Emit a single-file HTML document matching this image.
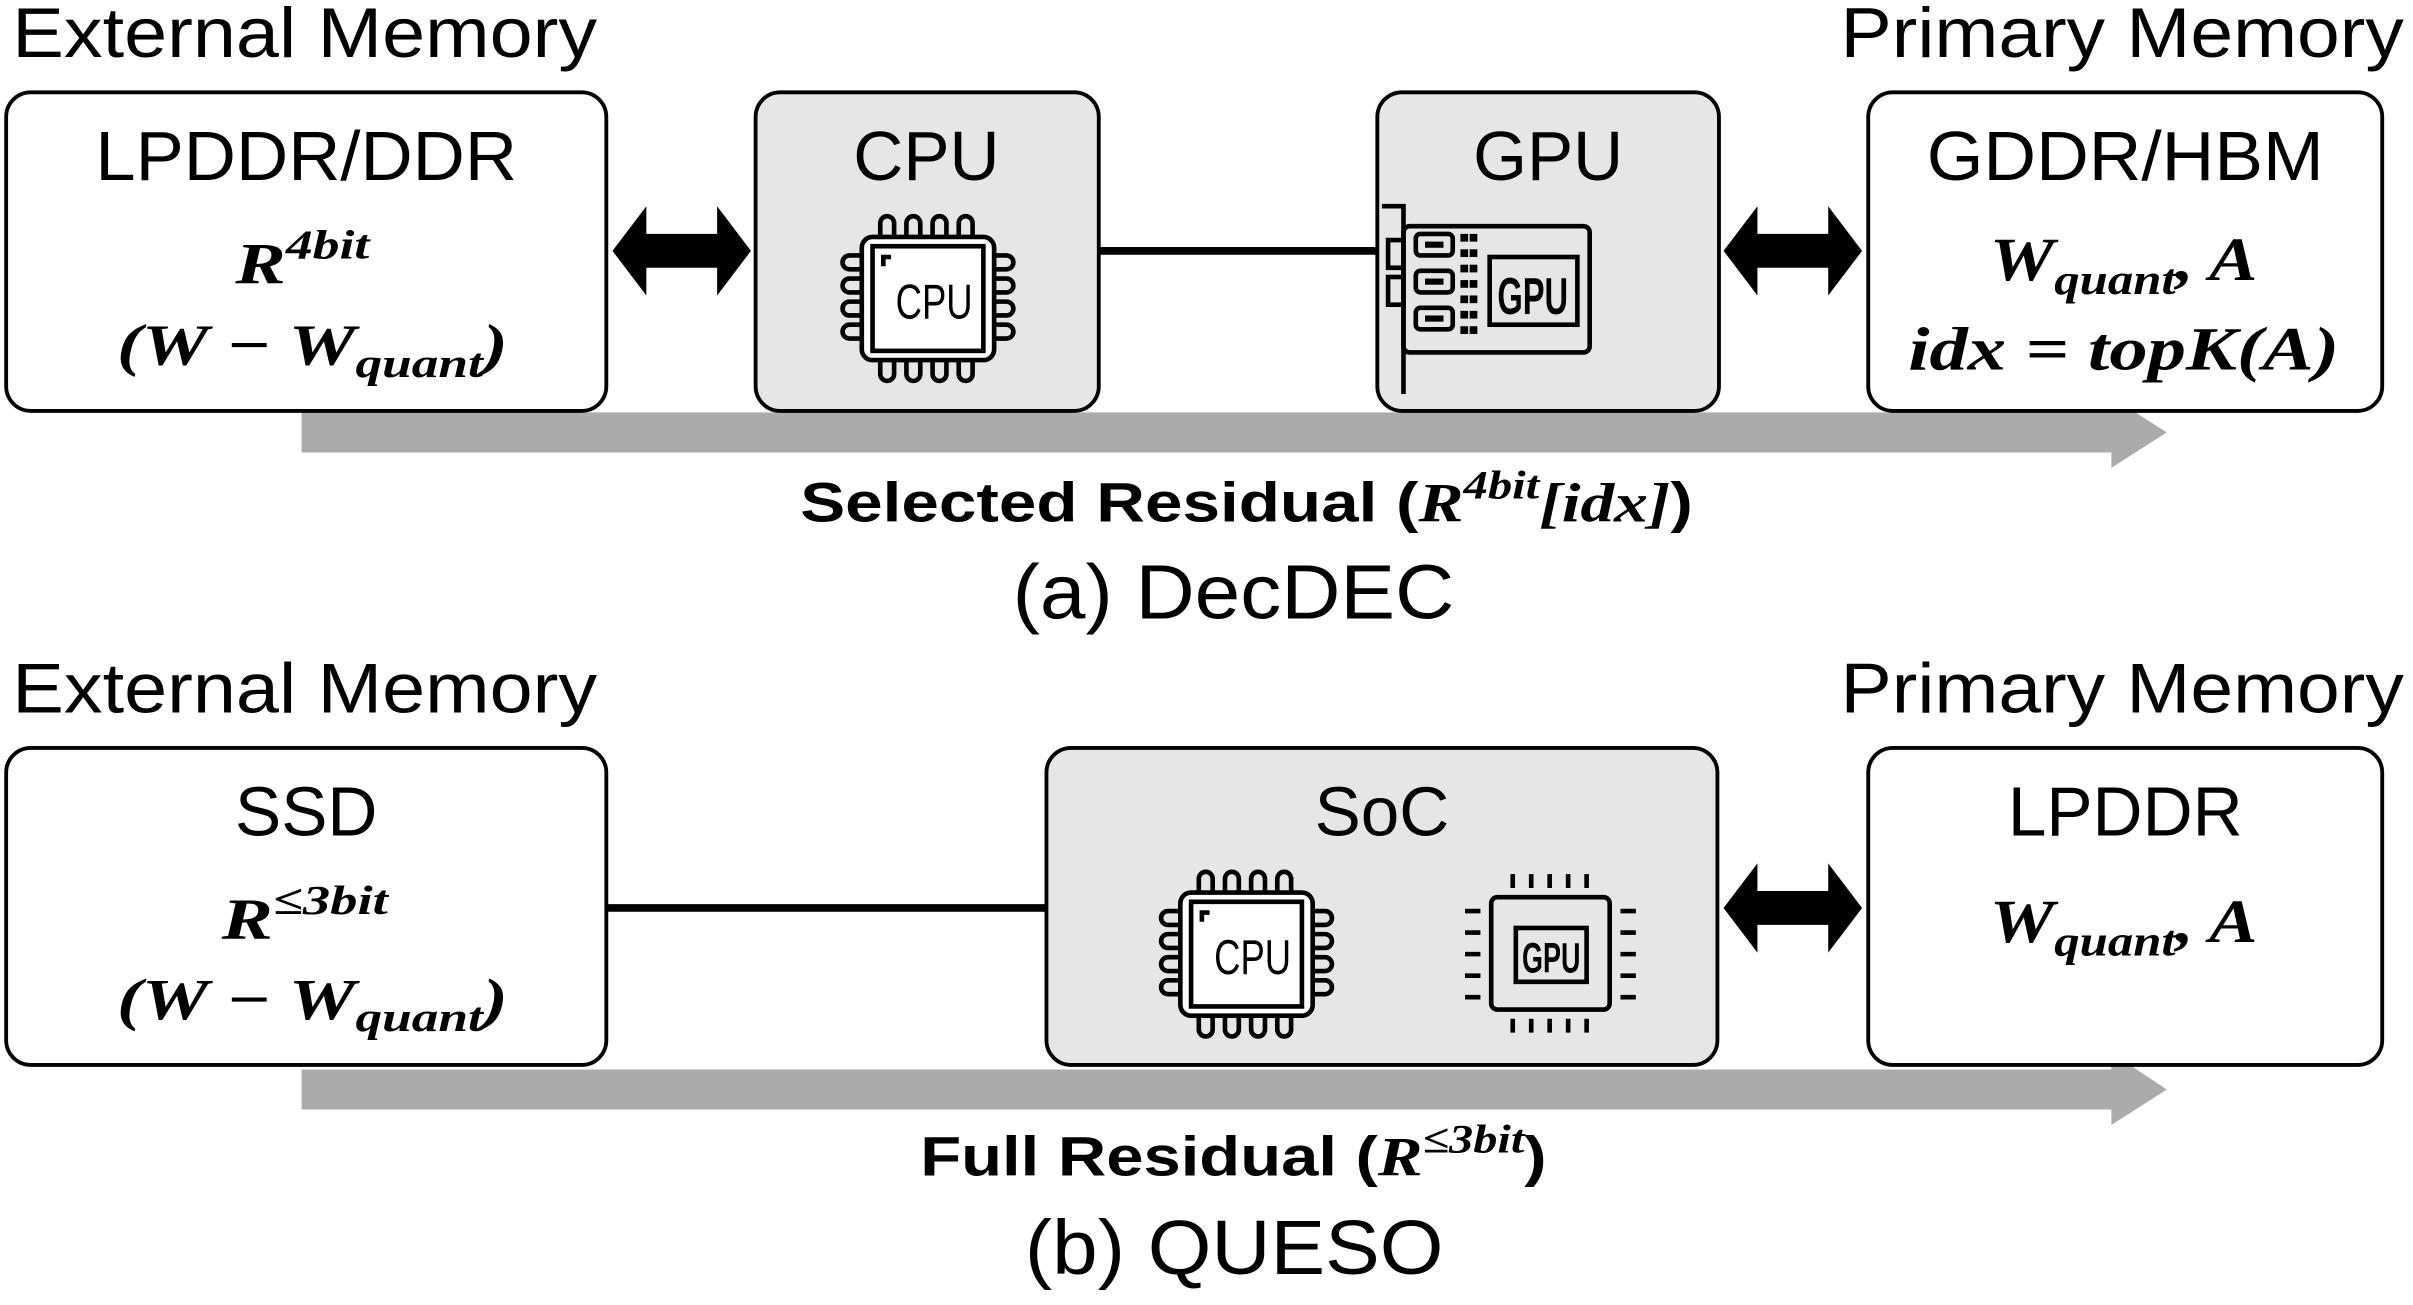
<!DOCTYPE html>
<html><head><meta charset="utf-8"><style>
html,body{margin:0;padding:0;background:#fff;}
svg{display:block;}
.s{font-family:"Liberation Sans",sans-serif;}
.m{font-family:"Liberation Serif",serif;font-weight:bold;font-style:italic;}
</style></head><body>
<svg width="2413" height="1305" viewBox="0 0 1568 848" preserveAspectRatio="none" xmlns="http://www.w3.org/2000/svg">
<defs>
<g id="cpu">
  <g fill="none" stroke="#000" stroke-width="3">
    <rect x="-43" y="-40" width="86" height="80" rx="7" fill="#fff"/>
    <rect x="-36" y="-34" width="72" height="68"/>
    <path d="M-31 -40v-9a4 4 0 0 1 9 0v9 M-14 -40v-9a4 4 0 0 1 9 0v9 M3 -40v-9a4 4 0 0 1 9 0v9 M20 -40v-9a4 4 0 0 1 9 0v9"/>
    <path d="M-31 40v9a4 4 0 0 0 9 0v-9 M-14 40v9a4 4 0 0 0 9 0v-9 M3 40v9a4 4 0 0 0 9 0v-9 M20 40v9a4 4 0 0 0 9 0v-9"/>
    <path d="M-43 -28h-8a4 4 0 0 0 0 9h8 M-43 -13h-8a4 4 0 0 0 0 9h8 M-43 2h-8a4 4 0 0 0 0 9h8 M-43 17h-8a4 4 0 0 0 0 9h8"/>
    <path d="M43 -28h8a4 4 0 0 1 0 9h-8 M43 -13h8a4 4 0 0 1 0 9h-8 M43 2h8a4 4 0 0 1 0 9h-8 M43 17h8a4 4 0 0 1 0 9h-8"/>
    <path d="M-29 -21v-6h5"/>
  </g>
</g>
</defs>

<text class="s" x="8" y="37" font-size="46" textLength="380" lengthAdjust="spacingAndGlyphs">External Memory</text>
<text class="s" x="1562" y="37" font-size="46" text-anchor="end" textLength="366" lengthAdjust="spacingAndGlyphs">Primary Memory</text>

<polygon points="196,268 1372,268 1372,258 1408,281 1372,304 1372,294 196,294" fill="#ababab"/>

<rect x="4" y="60" width="390" height="207" rx="16" fill="#fff" stroke="#000" stroke-width="2.5"/>
<rect x="491" y="60" width="223" height="207" rx="16" fill="#e6e6e6" stroke="#000" stroke-width="2.5"/>
<rect x="895" y="60" width="222" height="207" rx="16" fill="#e6e6e6" stroke="#000" stroke-width="2.5"/>
<rect x="1214" y="60" width="334" height="207" rx="16" fill="#fff" stroke="#000" stroke-width="2.5"/>

<line x1="714" y1="163" x2="895" y2="163" stroke="#000" stroke-width="5"/>
<polygon points="398,163 420,134 420,152 466,152 466,134 488,163 466,192 466,174 420,174 420,192" fill="#000"/>
<polygon points="1120,163 1142,134 1142,152 1188,152 1188,134 1210,163 1188,192 1188,174 1142,174 1142,192" fill="#000"/>

<text class="s" x="62" y="117" font-size="45" textLength="274" lengthAdjust="spacingAndGlyphs">LPDDR/DDR</text>
<text class="m" x="153" y="184" font-size="38" textLength="87" lengthAdjust="spacingAndGlyphs">R<tspan font-size="27" dy="-16">4bit</tspan></text>
<text class="m" x="76" y="237" font-size="38" textLength="254" lengthAdjust="spacingAndGlyphs">(W − W<tspan font-size="27" dy="8">quant</tspan><tspan dy="-8">)</tspan></text>

<text class="s" x="602" y="117" font-size="45" text-anchor="middle">CPU</text>
<use href="#cpu" transform="translate(603,194)"/>
<text class="s" x="607" y="207" font-size="32" text-anchor="middle" textLength="50" lengthAdjust="spacingAndGlyphs">CPU</text>

<text class="s" x="1006" y="117" font-size="45" text-anchor="middle">GPU</text>
<g fill="none" stroke="#000" stroke-width="3">
  <path d="M898 134h14v122"/>
  <rect x="912" y="147" width="121" height="82" rx="4"/>
  <rect x="902" y="156" width="10" height="18"/>
  <rect x="902" y="180" width="10" height="18"/>
  <rect x="920" y="152" width="24" height="14" rx="3"/>
  <rect x="920" y="176" width="24" height="14" rx="3"/>
  <rect x="920" y="200" width="24" height="14" rx="3"/>
  <rect x="968" y="167" width="57" height="44"/>
</g>
<g fill="#000">
  <rect x="926" y="157" width="12" height="4"/><rect x="926" y="181" width="12" height="4"/><rect x="926" y="205" width="12" height="4"/>
  <rect x="949" y="152" width="5" height="5"/><rect x="955" y="152" width="5" height="5"/>
  <rect x="949" y="162" width="5" height="5"/><rect x="955" y="162" width="5" height="5"/>
  <rect x="949" y="172" width="5" height="5"/><rect x="955" y="172" width="5" height="5"/>
  <rect x="949" y="182" width="5" height="5"/><rect x="955" y="182" width="5" height="5"/>
  <rect x="949" y="192" width="5" height="5"/><rect x="955" y="192" width="5" height="5"/>
  <rect x="949" y="202" width="5" height="5"/><rect x="955" y="202" width="5" height="5"/>
  <rect x="949" y="212" width="5" height="5"/><rect x="955" y="212" width="5" height="5"/>
</g>
<text class="s" x="996" y="204" font-size="34" font-weight="bold" text-anchor="middle" textLength="46" lengthAdjust="spacingAndGlyphs">GPU</text>

<text class="s" x="1252" y="117" font-size="45" textLength="258" lengthAdjust="spacingAndGlyphs">GDDR/HBM</text>
<text class="m" x="1293" y="182" font-size="40" textLength="174" lengthAdjust="spacingAndGlyphs">W<tspan font-size="28" dy="9">quant</tspan><tspan dy="-9">, A</tspan></text>
<text class="m" x="1240" y="240" font-size="40" textLength="280" lengthAdjust="spacingAndGlyphs">idx = topK(A)</text>

<text class="s" x="520" y="339" font-size="36" font-weight="bold" textLength="580" lengthAdjust="spacingAndGlyphs">Selected Residual (<tspan class="m" font-family="Liberation Serif">R<tspan font-size="26" dy="-15">4bit</tspan><tspan dy="15">[idx]</tspan></tspan>)</text>
<text class="s" x="658" y="402" font-size="50" textLength="287" lengthAdjust="spacingAndGlyphs">(a) DecDEC</text>

<text class="s" x="8" y="463" font-size="46" textLength="380" lengthAdjust="spacingAndGlyphs">External Memory</text>
<text class="s" x="1562" y="463" font-size="46" text-anchor="end" textLength="366" lengthAdjust="spacingAndGlyphs">Primary Memory</text>

<polygon points="196,695 1372,695 1372,684 1408,708 1372,731 1372,721 196,721" fill="#ababab"/>

<rect x="4" y="486" width="390" height="206" rx="16" fill="#fff" stroke="#000" stroke-width="2.5"/>
<rect x="680" y="486" width="436" height="206" rx="16" fill="#e6e6e6" stroke="#000" stroke-width="2.5"/>
<rect x="1214" y="486" width="334" height="206" rx="16" fill="#fff" stroke="#000" stroke-width="2.5"/>

<line x1="394" y1="590" x2="680" y2="590" stroke="#000" stroke-width="5"/>
<polygon points="1120,590 1142,561 1142,579 1188,579 1188,561 1210,590 1188,619 1188,601 1142,601 1142,619" fill="#000"/>

<text class="s" x="199" y="543" font-size="45" text-anchor="middle">SSD</text>
<text class="m" x="144" y="610" font-size="38" textLength="108" lengthAdjust="spacingAndGlyphs">R<tspan font-size="27" dy="-16">≤3bit</tspan></text>
<text class="m" x="76" y="662" font-size="38" textLength="254" lengthAdjust="spacingAndGlyphs">(W − W<tspan font-size="27" dy="8">quant</tspan><tspan dy="-8">)</tspan></text>

<text class="s" x="898" y="543" font-size="45" text-anchor="middle">SoC</text>
<use href="#cpu" transform="translate(810,620)"/>
<text class="s" x="814" y="633" font-size="32" text-anchor="middle" textLength="50" lengthAdjust="spacingAndGlyphs">CPU</text>

<g fill="none" stroke="#000" stroke-width="3">
  <rect x="969" y="583" width="77" height="73" rx="4"/>
  <rect x="985" y="603" width="46" height="35"/>
</g>
<g stroke="#000" stroke-width="3">
  <path d="M983 568v9 M995 568v9 M1007 568v9 M1019 568v9 M1031 568v9"/>
  <path d="M983 662v9 M995 662v9 M1007 662v9 M1019 662v9 M1031 662v9"/>
  <path d="M952 592h10 M952 606h10 M952 620h10 M952 634h10 M952 648h10"/>
  <path d="M1053 592h10 M1053 606h10 M1053 620h10 M1053 634h10 M1053 648h10"/>
</g>
<text class="s" x="1008" y="632" font-size="28" font-weight="bold" text-anchor="middle" textLength="38" lengthAdjust="spacingAndGlyphs">GPU</text>

<text class="s" x="1381" y="543" font-size="45" text-anchor="middle">LPDDR</text>
<text class="m" x="1293" y="612" font-size="40" textLength="174" lengthAdjust="spacingAndGlyphs">W<tspan font-size="28" dy="9">quant</tspan><tspan dy="-9">, A</tspan></text>

<text class="s" x="598" y="764" font-size="36" font-weight="bold" textLength="407" lengthAdjust="spacingAndGlyphs">Full Residual (<tspan font-family="Liberation Serif" font-style="italic">R<tspan font-size="26" dy="-15">≤3bit</tspan><tspan dy="15" font-style="normal" font-family="Liberation Sans">)</tspan></tspan></text>
<text class="s" x="666" y="828" font-size="50" textLength="272" lengthAdjust="spacingAndGlyphs">(b) QUESO</text>
</svg>
</body></html>
